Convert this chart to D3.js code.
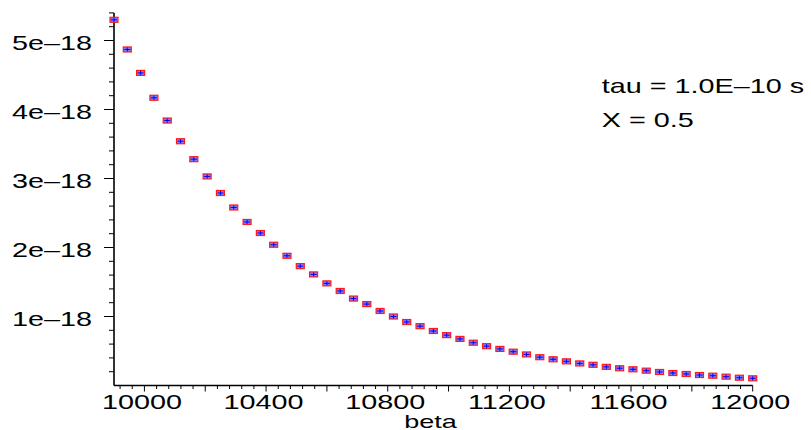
<!DOCTYPE html>
<html>
<head>
<meta charset="utf-8">
<script src="https://cdn.jsdelivr.net/npm/d3@7"></script>
<style>
  body { margin: 0; background: #fff; }
  text { font-family: "Liberation Sans", Arial, sans-serif; fill: #000; }
</style>
</head>
<body>
<div id="chart"></div>
<script>
// beta values (x) and rate values (y)
const beta = [9900, 9943.75, 9987.5, 10031.25, 10075, 10118.75, 10162.5, 10206.25,
  10250, 10293.75, 10337.5, 10381.25, 10425, 10468.75, 10512.5, 10556.25, 10600,
  10643.75, 10687.5, 10731.25, 10775, 10818.75, 10862.5, 10906.25, 10950, 10993.75,
  11037.5, 11081.25, 11125, 11168.75, 11212.5, 11256.25, 11300, 11343.75, 11387.5,
  11431.25, 11475, 11518.75, 11562.5, 11606.25, 11650, 11693.75, 11737.5, 11781.25,
  11825, 11868.75, 11912.5, 11956.25, 12000];

const rate = [5.30e-18, 4.87e-18, 4.53e-18, 4.17e-18, 3.84e-18, 3.54e-18, 3.28e-18,
  3.03e-18, 2.79e-18, 2.58e-18, 2.37e-18, 2.21e-18, 2.04e-18, 1.88e-18, 1.73e-18,
  1.61e-18, 1.48e-18, 1.37e-18, 1.26e-18, 1.18e-18, 1.08e-18, 1.00e-18, 0.92e-18,
  0.86e-18, 0.79e-18, 0.73e-18, 0.675e-18, 0.62e-18, 0.57e-18, 0.53e-18, 0.49e-18,
  0.45e-18, 0.41e-18, 0.38e-18, 0.35e-18, 0.32e-18, 0.30e-18, 0.27e-18, 0.25e-18,
  0.235e-18, 0.215e-18, 0.196e-18, 0.181e-18, 0.167e-18, 0.152e-18, 0.142e-18,
  0.128e-18, 0.113e-18, 0.104e-18];

const xTickLabels = [10000, 10400, 10800, 11200, 11600, 12000];
const yTickLabels = ["1e\u201318", "2e\u201318", "3e\u201318", "4e\u201318", "5e\u201318"];
const notes = ["tau = 1.0E\u201310 s", "X = 0.5"];

const width = 811;
const height = 430;
const stretch = 1.44; // the original text is drawn wide

const x = d3.scaleLinear().domain([9900, 12000]).range([114, 752.7]);
const y = d3.scaleLinear().domain([0, 5.4e-18]).range([385.5, 12.9]);

const svg = d3.select("#chart")
  .append("svg")
  .attr("width", width)
  .attr("height", height);

// x axis: minor ticks every 40, medium every 200
const xMinor = d3.range(9920, 12001, 40);
const xAxis = svg.append("g");
xAxis.selectAll("line.tick")
  .data(xMinor)
  .enter()
  .append("line")
  .attr("x1", d => x(d))
  .attr("x2", d => x(d))
  .attr("y1", y(0))
  .attr("y2", d => y(0) + (Math.round(d) % 200 === 0 ? 6 : 3.5))
  .attr("stroke", "#000")
  .attr("stroke-width", 1);
xAxis.append("line")
  .attr("x1", x(9900)).attr("x2", x(12000))
  .attr("y1", y(0)).attr("y2", y(0))
  .attr("stroke", "#000").attr("stroke-width", 1.6);
xAxis.selectAll("text")
  .data(xTickLabels)
  .enter()
  .append("text")
  .attr("transform", d => `translate(${x(d) - 2.5},409) scale(${stretch},1)`)
  .attr("text-anchor", "middle")
  .style("font-size", "20px")
  .text(d => d);

// y axis: minor ticks every 0.2e-18, major every 1e-18
const yMinor = d3.range(1, 28).map(i => i * 0.2e-18);
const yAxis = svg.append("g");
yAxis.selectAll("line.tick")
  .data(yMinor)
  .enter()
  .append("line")
  .attr("x1", (d, i) => ((i + 1) % 5 === 0 ? 104 : 109))
  .attr("x2", x(9900))
  .attr("y1", d => y(d))
  .attr("y2", d => y(d))
  .attr("stroke", "#000")
  .attr("stroke-width", 1);
yAxis.append("line")
  .attr("x1", x(9900)).attr("x2", x(9900))
  .attr("y1", y(5.4e-18)).attr("y2", y(0))
  .attr("stroke", "#000").attr("stroke-width", 1.6);
yAxis.selectAll("text")
  .data(yTickLabels)
  .enter()
  .append("text")
  .attr("transform", (d, i) => `translate(92,${y((i + 1) * 1e-18) + 9.3}) scale(${stretch},1)`)
  .attr("text-anchor", "end")
  .style("font-size", "20px")
  .text(d => d);

// axis title
svg.append("text")
  .attr("transform", `translate(430.5,427.5) scale(1.5,1)`)
  .attr("text-anchor", "middle")
  .style("font-size", "18px")
  .text("beta");

// annotation
svg.selectAll("text.note")
  .data(notes)
  .enter()
  .append("text")
  .attr("class", "note")
  .attr("transform", (d, i) => `translate(601.7,${93.3 + i * 33.4}) scale(${stretch},1)`)
  .style("font-size", "20px")
  .text(d => d);

// points: red box with blue cross
const pts = svg.append("g")
  .selectAll("g")
  .data(beta)
  .enter()
  .append("g")
  .attr("transform", (d, i) => `translate(${x(d)},${y(rate[i])})`);

pts.append("rect")
  .attr("x", -4).attr("y", -2.5)
  .attr("width", 8).attr("height", 5)
  .attr("fill", "#7f7fff")
  .attr("stroke", "#ff1a1a")
  .attr("stroke-width", 1.2);
pts.append("line")
  .attr("x1", -3).attr("x2", 3).attr("y1", 0).attr("y2", 0)
  .attr("stroke", "#0000ff").attr("stroke-width", 1);
pts.append("line")
  .attr("x1", 0).attr("x2", 0).attr("y1", -2).attr("y2", 2)
  .attr("stroke", "#0000ff").attr("stroke-width", 1);
</script>
</body>
</html>
